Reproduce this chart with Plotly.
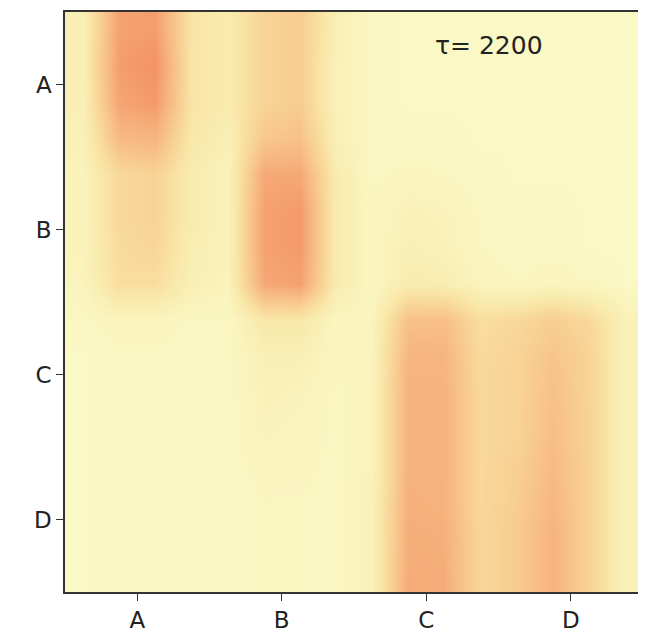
import plotly.graph_objects as go

categories = ["A", "B", "C", "D"]
annotation_text = "τ= 2200"

# sub-cell centres (4 per category) along each axis
x_centers = [-0.375, -0.125, 0.125, 0.375, 0.625, 0.875, 1.125, 1.375,
             1.625, 1.875, 2.125, 2.375, 2.625, 2.875, 3.125, 3.375]
y_centers = list(x_centers)

# intensity, rows top (A) to bottom (D)
z_rows = [
    [0.15, 0.85, 0.88, 0.30, 0.20, 0.45, 0.50, 0.15, 0.03, 0.02, 0.02, 0.02, 0.02, 0.02, 0.02, 0.02],
    [0.15, 0.88, 0.95, 0.30, 0.20, 0.45, 0.50, 0.12, 0.03, 0.02, 0.02, 0.02, 0.02, 0.02, 0.02, 0.02],
    [0.15, 0.82, 0.90, 0.30, 0.20, 0.45, 0.50, 0.12, 0.03, 0.02, 0.02, 0.02, 0.02, 0.02, 0.02, 0.02],
    [0.12, 0.65, 0.70, 0.25, 0.15, 0.55, 0.60, 0.15, 0.03, 0.03, 0.03, 0.02, 0.02, 0.02, 0.02, 0.02],
    [0.10, 0.40, 0.45, 0.20, 0.10, 0.80, 0.80, 0.20, 0.04, 0.06, 0.05, 0.03, 0.02, 0.02, 0.02, 0.02],
    [0.10, 0.40, 0.45, 0.20, 0.10, 0.85, 0.90, 0.20, 0.05, 0.12, 0.10, 0.04, 0.03, 0.03, 0.02, 0.02],
    [0.10, 0.38, 0.42, 0.18, 0.10, 0.85, 0.90, 0.20, 0.05, 0.15, 0.12, 0.05, 0.03, 0.03, 0.02, 0.02],
    [0.08, 0.35, 0.35, 0.15, 0.10, 0.80, 0.85, 0.20, 0.05, 0.20, 0.18, 0.08, 0.05, 0.08, 0.05, 0.02],
    [0.03, 0.08, 0.08, 0.04, 0.04, 0.25, 0.25, 0.06, 0.08, 0.60, 0.62, 0.35, 0.40, 0.50, 0.40, 0.12],
    [0.02, 0.04, 0.04, 0.03, 0.03, 0.15, 0.15, 0.05, 0.10, 0.70, 0.70, 0.38, 0.45, 0.57, 0.45, 0.12],
    [0.02, 0.03, 0.03, 0.03, 0.03, 0.12, 0.10, 0.04, 0.10, 0.72, 0.72, 0.40, 0.45, 0.60, 0.45, 0.12],
    [0.02, 0.03, 0.03, 0.03, 0.03, 0.10, 0.08, 0.04, 0.10, 0.72, 0.72, 0.40, 0.45, 0.62, 0.45, 0.12],
    [0.02, 0.03, 0.03, 0.03, 0.03, 0.07, 0.06, 0.04, 0.10, 0.72, 0.72, 0.40, 0.48, 0.65, 0.45, 0.12],
    [0.02, 0.03, 0.03, 0.03, 0.03, 0.05, 0.05, 0.04, 0.12, 0.74, 0.72, 0.40, 0.50, 0.68, 0.45, 0.12],
    [0.02, 0.03, 0.03, 0.03, 0.03, 0.05, 0.05, 0.04, 0.12, 0.76, 0.75, 0.42, 0.52, 0.72, 0.45, 0.12],
    [0.02, 0.03, 0.03, 0.03, 0.03, 0.05, 0.05, 0.04, 0.12, 0.77, 0.76, 0.42, 0.52, 0.72, 0.45, 0.12],
]

colorscale = [
    [0.0, "rgb(250,249,198)"],
    [0.25, "rgb(249,232,170)"],
    [0.5, "rgb(248,205,145)"],
    [0.75, "rgb(246,175,122)"],
    [1.0, "rgb(242,140,96)"],
]

fig = go.Figure(go.Heatmap(
    x=x_centers, y=y_centers, z=z_rows,
    zmin=0, zmax=1, colorscale=colorscale, zsmooth="best",
    showscale=False, hoverinfo="skip",
))

axis_common = dict(
    showline=True, linecolor="#333333", linewidth=1.5, mirror=True,
    ticks="outside", ticklen=7, tickwidth=1.2, tickcolor="#333333",
    tickvals=[0, 1, 2, 3], ticktext=categories,
    showgrid=False, zeroline=False,
    tickfont=dict(family="DejaVu Sans", size=23, color="#222222"),
)

fig.update_layout(
    width=638, height=627,
    margin=dict(l=57, r=3, t=4, b=43),
    paper_bgcolor="white", plot_bgcolor="white",
    xaxis=dict(range=[-0.5, 3.5], automargin=False, **axis_common),
    yaxis=dict(range=[3.5, -0.5], automargin=False, **axis_common),
    annotations=[dict(
        x=0.733, y=0.943, xref="paper", yref="paper",
        xanchor="center", yanchor="middle",
        text=annotation_text, showarrow=False,
        font=dict(family="DejaVu Sans", size=25, color="#222222"),
    )],
)

fig.write_html("out.html")
